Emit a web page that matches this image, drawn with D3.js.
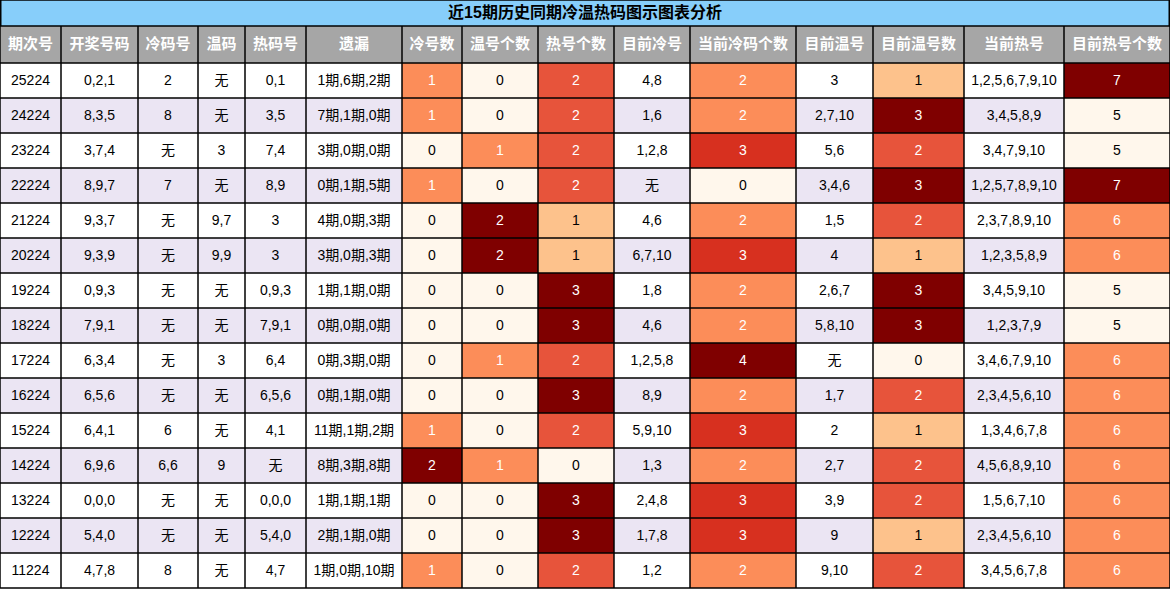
<!DOCTYPE html><html><head><meta charset="utf-8"><script src="https://cdn.jsdelivr.net/npm/d3@7"></script>
<style>body{margin:0;background:#fff}svg{display:block}</style></head><body><svg id="c" width="1170" height="589"></svg>
<script>
const title="近15期历史同期冷温热码图示图表分析";
const headers=["期次号","开奖号码","冷码号","温码","热码号","遗漏","冷号数","温号个数","热号个数","目前冷号","当前冷码个数","目前温号","目前温号数","当前热号","目前热号个数"];
const colEdges=[0,61,138,198,245,306,402,462,538,614,690,796,873,964,1064,1170];
const periods=["25224","24224","23224","22224","21224","20224","19224","18224","17224","16224","15224","14224","13224","12224","11224"];
const draws=["0,2,1","8,3,5","3,7,4","8,9,7","9,3,7","9,3,9","0,9,3","7,9,1","6,3,4","6,5,6","6,4,1","6,9,6","0,0,0","5,4,0","4,7,8"];
const coldNums=["2","8","无","7","无","无","无","无","无","无","6","6,6","无","无","8"];
const warmNums=["无","无","3","无","9,7","9,9","无","无","3","无","无","9","无","无","无"];
const hotNums=["0,1","3,5","7,4","8,9","3","3","0,9,3","7,9,1","6,4","6,5,6","4,1","无","0,0,0","5,4,0","4,7"];
const misses=["1期,6期,2期","7期,1期,0期","3期,0期,0期","0期,1期,5期","4期,0期,3期","3期,0期,3期","1期,1期,0期","0期,0期,0期","0期,3期,0期","0期,1期,0期","11期,1期,2期","8期,3期,8期","1期,1期,1期","2期,1期,0期","1期,0期,10期"];
const coldCount=[1,1,0,1,0,0,0,0,0,0,1,2,0,0,1];
const warmCount=[0,0,1,0,2,2,0,0,1,0,0,1,0,0,0];
const hotCount=[2,2,2,2,1,1,3,3,2,3,2,0,3,3,2];
const curCold=["4,8","1,6","1,2,8","无","4,6","6,7,10","1,8","4,6","1,2,5,8","8,9","5,9,10","1,3","2,4,8","1,7,8","1,2"];
const curColdCount=[2,2,3,0,2,3,2,2,4,2,3,2,3,3,2];
const curWarm=["3","2,7,10","5,6","3,4,6","1,5","4","2,6,7","5,8,10","无","1,7","2","2,7","3,9","9","9,10"];
const curWarmCount=[1,3,2,3,2,1,3,3,0,2,1,2,2,1,2];
const curHot=["1,2,5,6,7,9,10","3,4,5,8,9","3,4,7,9,10","1,2,5,7,8,9,10","2,3,7,8,9,10","1,2,3,5,8,9","3,4,5,9,10","1,2,3,7,9","3,4,6,7,9,10","2,3,4,5,6,10","1,3,4,6,7,8","4,5,6,8,9,10","1,5,6,7,10","2,3,4,5,6,10","3,4,5,6,7,8"];
const curHotCount=[7,5,5,7,6,6,5,5,6,6,6,6,6,6,6];

const columns=[periods,draws,coldNums,warmNums,hotNums,misses,coldCount,warmCount,hotCount,curCold,curColdCount,curWarm,curWarmCount,curHot,curHotCount];
const heatCols=new Set([6,7,8,10,12,14]);
const W=1170,H=589,titleH=26,headH=37;
const svg=d3.select("#c");
const x=d3.scaleOrdinal().domain(d3.range(16)).range(colEdges);
const y=d3.scaleBand().domain(d3.range(15)).range([63,588]);
const col=d3.scaleLinear().domain([0,.33,.5,.67,.75,1]).range(["#fff7ec","#fdc38d","#fc8d59","#e7533a","#d7301f","#7f0000"]);
const font="'Liberation Sans','Noto Sans CJK SC',sans-serif";
svg.append("rect").attr("x",0).attr("y",0).attr("width",W).attr("height",titleH).attr("fill","#87cefa");
svg.append("text").attr("x",W/2).attr("y",titleH/2+1).attr("text-anchor","middle").attr("dominant-baseline","middle")
 .attr("font-family",font).attr("font-weight","bold").attr("font-size",16).text(title);
headers.forEach((h,i)=>{
 const x0=x(i),x1=x(i+1);
 svg.append("rect").attr("x",x0).attr("y",titleH).attr("width",x1-x0).attr("height",headH).attr("fill","#a6a6a6");
 svg.append("text").attr("x",(x0+x1)/2).attr("y",titleH+headH/2+1).attr("text-anchor","middle").attr("dominant-baseline","middle")
  .attr("font-family",font).attr("font-weight","bold").attr("font-size",15).attr("fill","#fff").text(h);
});
columns.forEach((arr,ci)=>{
 const x0=x(ci),x1=x(ci+1);
 const ext=d3.extent(arr);
 arr.forEach((v,ri)=>{
  let fill=ri%2?"#ebe5f3":"#ffffff",tc="#000";
  if(heatCols.has(ci)){const t=(v-ext[0])/(ext[1]-ext[0]);fill=col(t);tc=t>=.45?"#fff":"#000";}
  svg.append("rect").attr("x",x0).attr("y",y(ri)).attr("width",x1-x0).attr("height",y.bandwidth()).attr("fill",fill);
  svg.append("text").attr("x",(x0+x1)/2).attr("y",y(ri)+y.bandwidth()/2+1).attr("text-anchor","middle").attr("dominant-baseline","middle")
   .attr("font-family",font).attr("font-size",14).attr("fill",tc).text(v);
 });
});
// grid lines
const g=svg.append("g").attr("stroke","#000").attr("stroke-width",1.5);
[0,titleH,titleH+headH].concat(d3.range(1,16).map(i=>y(i-1)+y.bandwidth())).forEach(yy=>g.append("line").attr("x1",0).attr("x2",W).attr("y1",yy).attr("y2",yy));
colEdges.forEach(xx=>g.append("line").attr("x1",xx).attr("x2",xx).attr("y1",titleH).attr("y2",588));
g.append("line").attr("x1",0.75).attr("x2",0.75).attr("y1",0).attr("y2",titleH);
g.append("line").attr("x1",W-0.75).attr("x2",W-0.75).attr("y1",0).attr("y2",titleH);
</script></body></html>
